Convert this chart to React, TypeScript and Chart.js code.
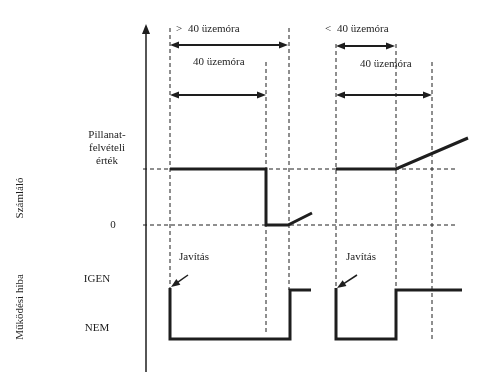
import React, { useEffect, useRef } from "react";
import { Chart, registerables } from "chart.js";

Chart.register(...registerables);

// Diagram units: x = time position, y = signal level position
const markerX = [170, 266, 289, 336, 396, 432];
const markerTop = [28, 62, 28, 44, 44, 62];
const markerBottom = [339, 335, 290, 339, 290, 339];

const levelLabels = ["Pillanat-|felvételi|érték", "0", "IGEN", "NEM"];
const levelY = [169, 225, 290, 339];
const guideLevels = [169, 225];
const guideStart = 143;
const guideEnd = 455;

const counter1X = [170, 266, 266, 288, 312];
const counter1Y = [169, 169, 225, 225, 213];
const counter2X = [336, 396, 468];
const counter2Y = [169, 169, 138];

const fault1X = [170, 170, 290, 290, 311];
const fault1Y = [288, 339, 339, 290, 290];
const fault2X = [336, 336, 396, 396, 462];
const fault2Y = [288, 339, 339, 290, 290];

const axisX = 146;
const axisTop = 24;
const axisBottom = 372;

// span arrows: from, to, y
const spanFrom = [170, 170, 336, 336];
const spanTo = [288, 266, 395, 432];
const spanY = [45, 95, 46, 95];
const spanPrefix = [">", "", "<", ""];
const spanLabels = ["40 üzemóra", "40 üzemóra", "40 üzemóra", "40 üzemóra"];
const spanLabelX = [188, 193, 337, 360];
const spanLabelY = [29, 62, 29, 64];
const spanPrefixX = [176, 0, 325, 0];

const repairLabel = "Javítás";
const repairLabelX = [179, 346];
const repairLabelY = [257, 257];
const repairArrowFromX = [188, 357];
const repairArrowFromY = [275, 275];
const repairArrowToX = [171, 337];
const repairArrowToY = [287, 288];

const sideLabels = ["Számláló", "Működési hiba"];
const sideLabelX = [20, 20];
const sideLabelY = [198, 307];

const FONT = "11px 'Liberation Serif', 'DejaVu Serif', serif";
const INK = "#1e1e1e";

const zip = (xs: number[], ys: number[]) => xs.map((x, i) => ({ x, y: ys[i] }));

const diagramPlugin = {
  id: "diagramText",
  afterDatasetsDraw(chart: any) {
    const { ctx } = chart;
    const sx = chart.scales.x;
    const sy = chart.scales.y;
    const px = (v: number) => sx.getPixelForValue(v);
    const py = (v: number) => sy.getPixelForValue(v);

    const head = (x1: number, y1: number, x2: number, y2: number, len = 9, half = 3.5) => {
      const a = Math.atan2(y2 - y1, x2 - x1);
      ctx.beginPath();
      ctx.moveTo(x2, y2);
      ctx.lineTo(x2 - len * Math.cos(a) + half * Math.sin(a), y2 - len * Math.sin(a) - half * Math.cos(a));
      ctx.lineTo(x2 - len * Math.cos(a) - half * Math.sin(a), y2 - len * Math.sin(a) + half * Math.cos(a));
      ctx.closePath();
      ctx.fill();
    };

    ctx.save();
    ctx.fillStyle = INK;
    ctx.strokeStyle = INK;

    // axis arrow head
    head(px(axisX), py(axisTop + 20), px(axisX), py(axisTop), 10, 4);

    // span arrows
    ctx.lineWidth = 2;
    spanFrom.forEach((f, i) => {
      const x1 = px(f), x2 = px(spanTo[i]), y = py(spanY[i]);
      ctx.beginPath();
      ctx.moveTo(x1 + 4, y);
      ctx.lineTo(x2 - 4, y);
      ctx.stroke();
      head(x2, y, x1, y);
      head(x1, y, x2, y);
    });

    // repair arrows
    ctx.lineWidth = 1.5;
    repairArrowFromX.forEach((fx, i) => {
      const x1 = px(fx), y1 = py(repairArrowFromY[i]);
      const x2 = px(repairArrowToX[i]), y2 = py(repairArrowToY[i]);
      ctx.beginPath();
      ctx.moveTo(x1, y1);
      ctx.lineTo(x2 + (x1 - x2) * 0.3, y2 + (y1 - y2) * 0.3);
      ctx.stroke();
      head(x1, y1, x2, y2, 9, 3.5);
    });

    ctx.font = FONT;
    ctx.textBaseline = "middle";

    // span labels
    ctx.textAlign = "left";
    spanLabels.forEach((t, i) => {
      ctx.fillText(t, px(spanLabelX[i]), py(spanLabelY[i]));
      if (spanPrefix[i]) ctx.fillText(spanPrefix[i], px(spanPrefixX[i]), py(spanLabelY[i]));
    });

    // repair labels
    repairLabelX.forEach((x, i) => ctx.fillText(repairLabel, px(x), py(repairLabelY[i])));

    // level labels
    ctx.textAlign = "center";
    const levelLabelX = [107, 113, 97, 97];
    levelLabels.forEach((t, i) => {
      const lines = t.split("|");
      const lh = 13;
      const y0 = i === 0 ? py(levelY[i]) - 34 : py(levelY[i] - (i >= 2 ? 11 : 0));
      lines.forEach((ln, k) => ctx.fillText(ln, px(levelLabelX[i]), y0 + k * lh));
    });

    // rotated side labels
    sideLabels.forEach((t, i) => {
      ctx.save();
      ctx.translate(px(sideLabelX[i]), py(sideLabelY[i]));
      ctx.rotate(-Math.PI / 2);
      ctx.fillText(t, 0, 0);
      ctx.restore();
    });

    ctx.restore();
  },
};

export default function App() {
  const ref = useRef<HTMLCanvasElement | null>(null);

  useEffect(() => {
    if (!ref.current) return;
    const dashed = (data: { x: number; y: number }[]) => ({
      data,
      showLine: true,
      borderColor: INK,
      borderWidth: 1,
      borderDash: [4, 3],
      pointRadius: 0,
      tension: 0,
    });
    const solid = (data: { x: number; y: number }[], w = 3) => ({
      data,
      showLine: true,
      borderColor: INK,
      borderWidth: w,
      pointRadius: 0,
      tension: 0,
      borderJoinStyle: "miter" as const,
    });

    const datasets: any[] = [];
    markerX.forEach((x, i) => datasets.push(dashed(zip([x, x], [markerTop[i], markerBottom[i]]))));
    guideLevels.forEach((y) => datasets.push(dashed(zip([guideStart, guideEnd], [y, y]))));
    datasets.push(solid(zip([axisX, axisX], [axisBottom, axisTop + 8]), 1.5));
    datasets.push(solid(zip(counter1X, counter1Y)));
    datasets.push(solid(zip(counter2X, counter2Y)));
    datasets.push(solid(zip(fault1X, fault1Y)));
    datasets.push(solid(zip(fault2X, fault2Y)));

    const chart = new Chart(ref.current, {
      type: "scatter",
      data: { datasets },
      options: {
        responsive: false,
        animation: false,
        events: [],
        layout: { padding: 0 },
        plugins: { legend: { display: false }, tooltip: { enabled: false } },
        scales: {
          x: { type: "linear", min: 0, max: 500, display: false },
          y: { type: "linear", min: 0, max: 380, reverse: true, display: false },
        },
      },
      plugins: [diagramPlugin],
    });
    return () => chart.destroy();
  }, []);

  return (
    <div style={{ position: "absolute", left: 0, top: 0, width: 500, height: 380, background: "#fff" }}>
      <canvas ref={ref} width={500} height={380} style={{ display: "block" }} />
    </div>
  );
}
